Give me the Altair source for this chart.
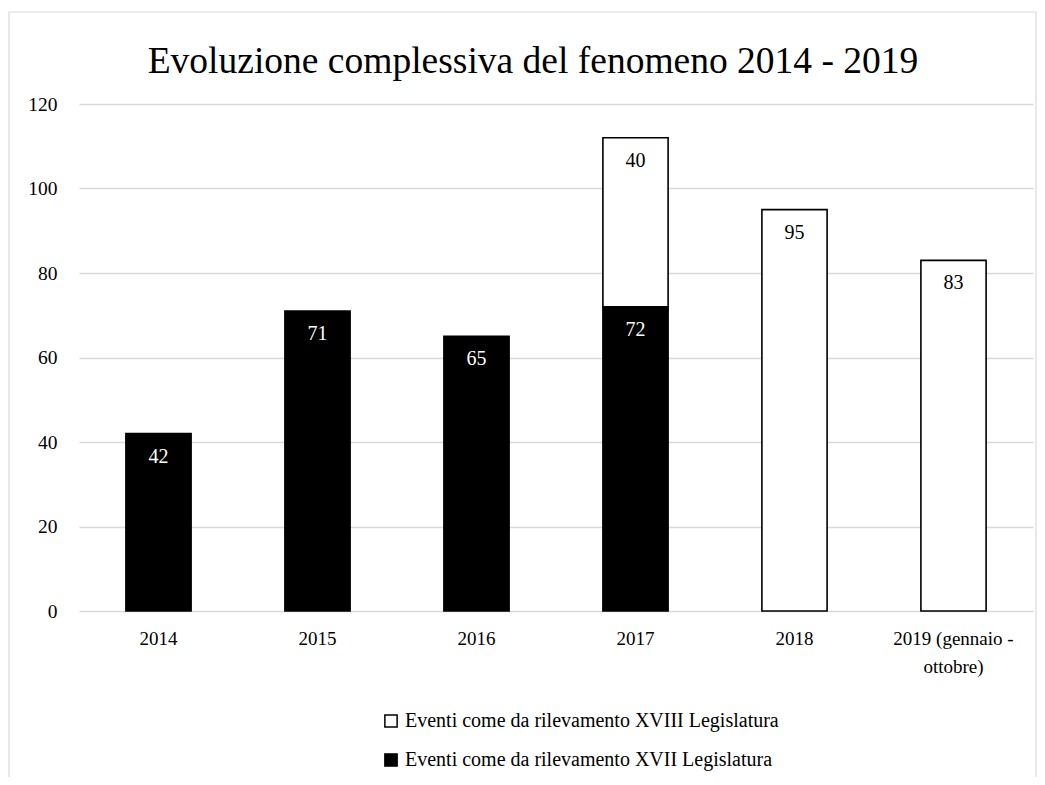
import altair as alt
import pandas as pd

years = ["2014", "2015", "2016", "2017", "2018", "2019 (gennaio - ottobre)"]
xvii = [42, 71, 65, 72, 0, 0]
xviii = [0, 0, 0, 40, 95, 83]
series = ["Eventi come da rilevamento XVIII Legislatura",
          "Eventi come da rilevamento XVII Legislatura"]
y_ticks = [0, 20, 40, 60, 80, 100, 120]

FONT = "Liberation Serif"

rows = []
for yr, a, b in zip(years, xvii, xviii):
    if a:
        rows.append({"anno": yr, "serie": series[1], "valore": a, "ord": 0})
    if b:
        rows.append({"anno": yr, "serie": series[0], "valore": b, "ord": 1})
df = pd.DataFrame(rows)

x_enc = alt.X(
    "anno:N", sort=years,
    scale=alt.Scale(domain=years, paddingInner=0.59, paddingOuter=0.295),
    axis=alt.Axis(title=None, labelAngle=0, domain=False, ticks=False,
                  labelFont=FONT, labelFontSize=19, labelColor="black",
                  labelPadding=18, labelLineHeight=28,
                  labelExpr="datum.label == '2019 (gennaio - ottobre)' ? ['2019 (gennaio -', 'ottobre)'] : datum.label"),
)
y_enc = alt.Y(
    "valore:Q", stack="zero",
    scale=alt.Scale(domain=[0, 120]),
    axis=alt.Axis(title=None, values=y_ticks, grid=True, gridColor="#d9d9d9",
                  gridWidth=1.3, domain=False, ticks=False,
                  labelFont=FONT, labelFontSize=19.5, labelColor="black",
                  labelPadding=22),
)

frame = alt.Chart(pd.DataFrame({"k": [0]})).mark_rect(
    fill="white", fillOpacity=0, stroke="#d9d9d9", strokeWidth=1.2
).encode(x=alt.value(-70), x2=alt.value(957), y=alt.value(-92), y2=alt.value(720))

bars = alt.Chart(df).mark_bar(stroke="black", strokeWidth=1.6).encode(
    x=x_enc,
    y=y_enc,
    color=alt.Color(
        "serie:N",
        scale=alt.Scale(domain=series, range=["#ffffff", "#000000"]),
        legend=alt.Legend(title=None, orient="none", legendX=302, legendY=607,
                          direction="vertical", symbolType="square", symbolSize=150,
                          symbolStrokeColor="black", symbolStrokeWidth=1.5,
                          labelFont=FONT, labelFontSize=20, labelColor="black",
                          rowPadding=19, labelOffset=4, labelLimit=600),
    ),
    order=alt.Order("ord:Q"),
)

labels = alt.Chart(df).mark_text(baseline="top", dy=13, font=FONT, fontSize=20).encode(
    x=alt.X("anno:N", sort=years),
    y=alt.Y("valore:Q", stack="zero"),
    detail="serie:N",
    order=alt.Order("ord:Q"),
    text=alt.Text("valore:Q"),
    color=alt.condition(alt.datum.serie == series[1], alt.value("white"), alt.value("black")),
)

chart = alt.layer(frame, bars, labels).properties(
    width=954, height=507,
    autosize=alt.AutoSizeParams(type="none"),
    padding={"left": 71, "top": 96, "right": 4, "bottom": 166},
    background="white",
    title=alt.TitleParams(
        text="Evoluzione complessiva del fenomeno 2014 - 2019",
        font=FONT, fontSize=37.5, fontWeight="normal", color="black",
        anchor="middle", dx=-23, offset=-99, baseline="alphabetic",
    ),
).configure_view(stroke=None)

chart.save("out.html", embed_options={"renderer": "svg", "actions": False})
